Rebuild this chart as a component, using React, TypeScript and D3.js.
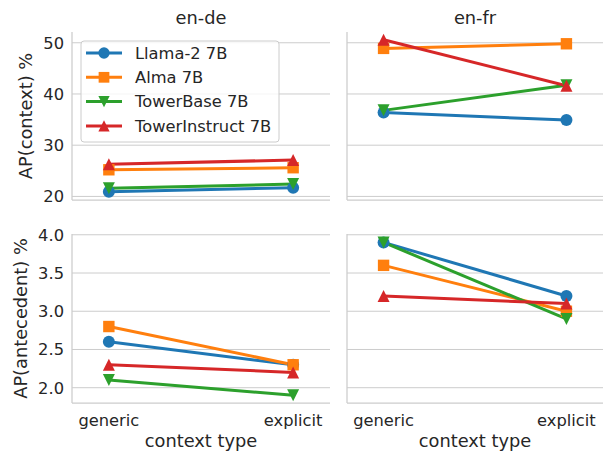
import React, { useRef, useEffect } from "react";
import * as d3 from "d3";

const categories = ["generic", "explicit"];
const models = ["Llama-2 7B", "Alma 7B", "TowerBase 7B", "TowerInstruct 7B"];
const colors = ["#1f77b4", "#ff7f0e", "#2ca02c", "#d62728"];
const markers = ["circle", "square", "down", "up"];

// AP(context) %, [generic, explicit] per model
const ctxEnDe = [[20.9, 21.7], [25.2, 25.6], [21.6, 22.4], [26.3, 27.1]];
const ctxEnFr = [[36.4, 34.9], [48.9, 49.8], [36.8, 41.7], [50.6, 41.6]];
// AP(antecedent) %
const antEnDe = [[2.6, 2.3], [2.8, 2.3], [2.1, 1.9], [2.3, 2.2]];
const antEnFr = [[3.9, 3.2], [3.6, 3.0], [3.9, 2.9], [3.2, 3.1]];

const ctxTicks = [20, 30, 40, 50];
const antTicks = [2.0, 2.5, 3.0, 3.5, 4.0];

// matplotlib-like marker paths, centred on 0,0
const markerPath = (m: string, s = 12) => {
    const h = s / 2;
    if (m === "circle") {
        const p = d3.path();
        p.arc(0, 0, h, 0, Math.PI * 2);
        return p.toString();
    }
    if (m === "square") {
        const q = h * 0.95;
        return `M${-q},${-q}H${q}V${q}H${-q}Z`;
    }
    if (m === "down") return `M0,${h}L${-h},${-h}L${h},${-h}Z`;
    return `M0,${-h}L${-h},${h}L${h},${h}Z`;
};

const App = () => {
    const ref = useRef<SVGSVGElement | null>(null);

    useEffect(() => {
        const svg = d3.select(ref.current);
        svg.selectAll("*").remove();
        const font = "DejaVu Sans, sans-serif";
        const textColor = "#262626";
        const gridColor = "#cccccc";
        const tickSize = 16.3;
        const labelSize = 17.8;

        const cols = [
            { left: 72, right: 330, title: "en-de" },
            { left: 347, right: 603, title: "en-fr" },
        ];
        const rows = [
            { top: 32, bottom: 200, domain: [19.3, 52.1], ticks: ctxTicks, fmt: d3.format("d"), label: "AP(context) %", data: [ctxEnDe, ctxEnFr] },
            { top: 234, bottom: 403, domain: [1.8, 4.01], ticks: antTicks, fmt: d3.format(".1f"), label: "AP(antecedent) %", data: [antEnDe, antEnFr] },
        ];

        rows.forEach((row, ri) => {
            const y = d3.scaleLinear().domain(row.domain).range([row.bottom, row.top]);
            cols.forEach((col, ci) => {
                // categorical xlim [-0.2, 1.2]
                const xs = d3.scaleLinear().domain([-0.2, 1.2]).range([col.left, col.right]);
                const g = svg.append("g");

                // grid
                g.selectAll("line.grid")
                    .data(row.ticks)
                    .join("line")
                    .attr("x1", col.left)
                    .attr("x2", col.right)
                    .attr("y1", (d) => y(d))
                    .attr("y2", (d) => y(d))
                    .attr("stroke", gridColor)
                    .attr("stroke-width", 1);

                // spines
                g.append("line").attr("x1", col.left).attr("x2", col.left).attr("y1", row.top).attr("y2", row.bottom).attr("stroke", gridColor).attr("stroke-width", 1.25);
                g.append("line").attr("x1", col.left).attr("x2", col.right).attr("y1", row.bottom).attr("y2", row.bottom).attr("stroke", gridColor).attr("stroke-width", 1.25);

                if (ci === 0) {
                    g.selectAll("text.tick")
                        .data(row.ticks)
                        .join("text")
                        .attr("x", col.left - 8)
                        .attr("y", (d) => y(d))
                        .attr("dy", "0.36em")
                        .attr("text-anchor", "end")
                        .attr("font-family", font)
                        .attr("font-size", tickSize)
                        .attr("fill", textColor)
                        .text((d) => row.fmt(d));
                    const cy = (row.top + row.bottom) / 2;
                    g.append("text")
                        .attr("transform", `translate(${ri === 0 ? 26 : 21},${cy}) rotate(-90)`)
                        .attr("text-anchor", "middle")
                        .attr("dy", "0.36em")
                        .attr("font-family", font)
                        .attr("font-size", labelSize)
                        .attr("fill", textColor)
                        .text(row.label);
                }

                if (ri === 0) {
                    g.append("text")
                        .attr("x", (col.left + col.right) / 2)
                        .attr("y", 18)
                        .attr("dy", "0.36em")
                        .attr("text-anchor", "middle")
                        .attr("font-family", font)
                        .attr("font-size", labelSize)
                        .attr("fill", textColor)
                        .text(col.title);
                } else {
                    g.selectAll("text.xt")
                        .data(categories)
                        .join("text")
                        .attr("x", (d, i) => xs(i))
                        .attr("y", 420)
                        .attr("dy", "0.36em")
                        .attr("text-anchor", "middle")
                        .attr("font-family", font)
                        .attr("font-size", tickSize)
                        .attr("fill", textColor)
                        .text((d) => d);
                    g.append("text")
                        .attr("x", (col.left + col.right) / 2)
                        .attr("y", 441)
                        .attr("dy", "0.36em")
                        .attr("text-anchor", "middle")
                        .attr("font-family", font)
                        .attr("font-size", labelSize)
                        .attr("fill", textColor)
                        .text("context type");
                }

                const series = row.data[ci];
                const line = d3.line<number>().x((d, i) => xs(i)).y((d) => y(d));
                series.forEach((vals, si) => {
                    g.append("path")
                        .attr("d", line(vals)!)
                        .attr("fill", "none")
                        .attr("stroke", colors[si])
                        .attr("stroke-width", 3);
                });
                series.forEach((vals, si) => {
                    vals.forEach((v, i) => {
                        g.append("path")
                            .attr("d", markerPath(markers[si]))
                            .attr("transform", `translate(${xs(i)},${y(v)})`)
                            .attr("fill", colors[si]);
                    });
                });
            });
        });

        // legend
        const lg = svg.append("g");
        lg.append("rect")
            .attr("x", 81)
            .attr("y", 41)
            .attr("width", 198)
            .attr("height", 101)
            .attr("rx", 3)
            .attr("fill", "white")
            .attr("fill-opacity", 0.8)
            .attr("stroke", gridColor)
            .attr("stroke-width", 1);
        models.forEach((m, i) => {
            const ly = 53 + i * 24.3;
            lg.append("line").attr("x1", 86).attr("x2", 122).attr("y1", ly).attr("y2", ly).attr("stroke", colors[i]).attr("stroke-width", 3);
            lg.append("path")
                .attr("d", markerPath(markers[i], 11.3))
                .attr("transform", `translate(104,${ly})`)
                .attr("fill", colors[i]);
            lg.append("text")
                .attr("x", 135)
                .attr("y", ly)
                .attr("dy", "0.36em")
                .attr("font-family", font)
                .attr("font-size", tickSize)
                .attr("fill", textColor)
                .text(m);
        });
    }, []);

    return (
        <svg ref={ref} width={605} height={452} viewBox="0 0 605 452" style={{ position: "absolute", left: 0, top: 0, background: "white" }} />
    );
};

export default App;
